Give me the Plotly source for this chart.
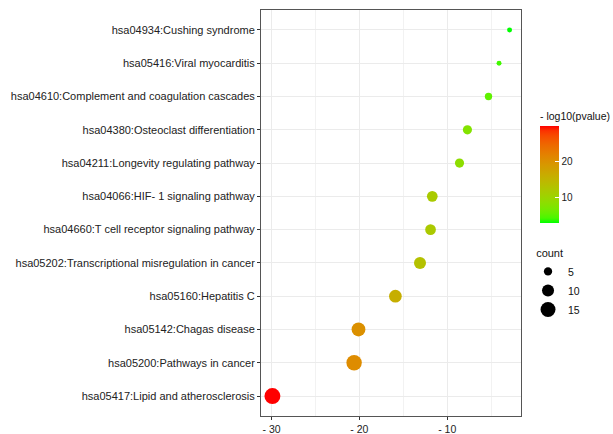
import numpy as np
import plotly.graph_objects as go

# ---- data (top to bottom as shown) ----
pathways = [
    "hsa04934:Cushing syndrome",
    "hsa05416:Viral myocarditis",
    "hsa04610:Complement and coagulation cascades",
    "hsa04380:Osteoclast differentiation",
    "hsa04211:Longevity regulating pathway",
    "hsa04066:HIF- 1 signaling pathway",
    "hsa04660:T cell receptor signaling pathway",
    "hsa05202:Transcriptional misregulation in cancer",
    "hsa05160:Hepatitis C",
    "hsa05142:Chagas disease",
    "hsa05200:Pathways in cancer",
    "hsa05417:Lipid and atherosclerosis",
]
neg_log10_p = [2.9, 4.1, 5.3, 7.7, 8.6, 11.7, 11.9, 13.1, 15.9, 20.1, 20.6, 29.9]
counts = [2, 2, 4, 6, 6, 8, 8, 10, 11, 13, 16, 17]
x_values = [-v for v in neg_log10_p]

x_tickvals = [-30, -20, -10]
x_ticktext = ["- 30", "- 20", "- 10"]
cbar_tickvals = [10, 20]
legend_counts = [5, 10, 15]

FONT = "Liberation Sans, Arial, sans-serif"


def diam(c):
    return -0.76 + 4.05 * np.sqrt(np.asarray(c, dtype=float))


# Lab interpolation green -> red (like ggplot scale_colour_gradient)
def srgb_to_lin(c):
    c = c / 255.0
    return np.where(c <= 0.04045, c / 12.92, ((c + 0.055) / 1.055) ** 2.4)


def lin_to_srgb(c):
    c = np.clip(c, 0, 1)
    v = np.where(c <= 0.0031308, 12.92 * c, 1.055 * c ** (1 / 2.4) - 0.055)
    return np.clip(np.round(v * 255), 0, 255)


M = np.array([[0.4124, 0.3576, 0.1805], [0.2126, 0.7152, 0.0722], [0.0193, 0.1192, 0.9505]])
Minv = np.linalg.inv(M)
WP = np.array([0.95047, 1.0, 1.08883])


def f(t):
    d = 6 / 29
    return np.where(t > d ** 3, np.cbrt(t), t / (3 * d * d) + 4 / 29)


def finv(t):
    d = 6 / 29
    return np.where(t > d, t ** 3, 3 * d * d * (t - 4 / 29))


def rgb_to_lab(rgb):
    xyz = M @ srgb_to_lin(np.array(rgb, dtype=float)) / WP
    fx, fy, fz = f(xyz)
    return np.array([116 * fy - 16, 500 * (fx - fy), 200 * (fy - fz)])


def lab_to_rgb(lab):
    L, a, b = lab
    fy = (L + 16) / 116
    fx = fy + a / 500
    fz = fy - b / 200
    xyz = np.array([finv(fx), finv(fy), finv(fz)]) * WP
    return lin_to_srgb(Minv @ xyz)


lab_lo = rgb_to_lab([0, 255, 0])
lab_hi = rgb_to_lab([255, 0, 0])
colorscale = []
for t in np.linspace(0, 1, 21):
    r, g, b = lab_to_rgb(lab_lo + (lab_hi - lab_lo) * t)
    colorscale.append([float(t), f"rgb({int(r)},{int(g)},{int(b)})"])

fig = go.Figure()
fig.add_trace(go.Scatter(
    x=x_values, y=pathways, mode="markers", showlegend=False, hoverinfo="skip",
    marker=dict(
        color=neg_log10_p, colorscale=colorscale,
        cmin=min(neg_log10_p), cmax=max(neg_log10_p),
        size=diam(counts), opacity=1, line=dict(width=0),
        colorbar=dict(
            title=dict(text="- log10(pvalue)", side="top",
                       font=dict(family=FONT, size=10.5, color="#111")),
            tickvals=cbar_tickvals, ticks="inside", ticklen=4, tickcolor="white",
            tickfont=dict(family=FONT, size=10, color="#222"),
            thickness=19, lenmode="pixels", len=114,
            x=1.073, xanchor="left", y=0.475, yanchor="bottom",
            xpad=0, ypad=0, outlinewidth=0,
        ),
    ),
))
for c in legend_counts:
    fig.add_trace(go.Scatter(
        x=[None], y=[None], mode="markers", name=str(c), showlegend=True,
        marker=dict(color="black", size=float(diam([c])[0]), line=dict(width=0)),
    ))

fig.update_layout(
    width=613, height=434,
    margin=dict(l=261, r=92, t=10, b=18, autoexpand=False),
    paper_bgcolor="white", plot_bgcolor="white",
    font=dict(family=FONT, size=11, color="#111"),
    legend=dict(
        title=dict(text="\u00a0\u00a0count", font=dict(family=FONT, size=11)),
        x=1.027, xanchor="left", y=0.427, yanchor="top",
        itemsizing="trace", font=dict(family=FONT, size=10.5),
        tracegroupgap=0, bgcolor="rgba(0,0,0,0)",
    ),
)
fig.update_xaxes(
    range=[-31.2, -1.6], tickvals=x_tickvals, ticktext=x_ticktext,
    ticks="outside", ticklen=3, tickcolor="#333", tickwidth=1,
    tickfont=dict(family=FONT, size=10.5, color="#222"),
    showgrid=True, gridcolor="#EBEBEB", gridwidth=1,
    minor=dict(dtick=5, tick0=-30, showgrid=True, gridcolor="#F2F2F2", gridwidth=1),
    showline=True, linecolor="#555", linewidth=1, mirror=True, zeroline=False,
    automargin=False,
)
fig.update_yaxes(
    type="category", categoryorder="array", categoryarray=pathways[::-1],
    range=[-0.6, len(pathways) - 0.4],
    ticks="outside", ticklen=3, tickcolor="#333", tickwidth=1,
    tickfont=dict(family=FONT, size=11, color="#222"),
    showgrid=True, gridcolor="#EBEBEB", gridwidth=1,
    showline=True, linecolor="#555", linewidth=1, mirror=True, zeroline=False,
    automargin=False,
)
fig.write_html(
    "out.html",
    config={"displayModeBar": False},
    post_script="document.body.style.margin='0';document.body.style.padding='0';",
)
